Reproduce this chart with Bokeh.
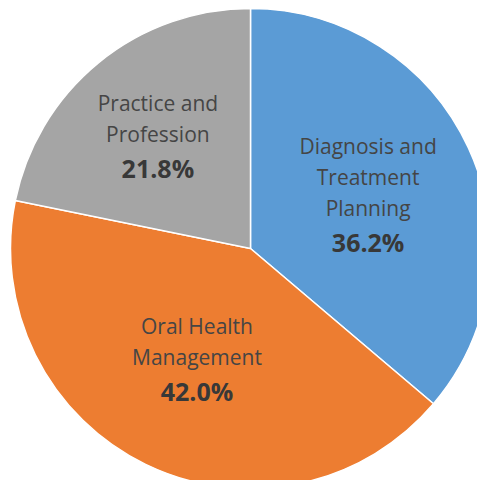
import math
from bokeh.plotting import figure
from bokeh.models import Range1d, ColumnDataSource
from bokeh.core.properties import value
from bokeh.embed import file_html
from bokeh.resources import INLINE

categories = ["Diagnosis and\nTreatment\nPlanning", "Oral Health\nManagement", "Practice and\nProfession"]
shares = [36.2, 42.0, 21.8]
colors = ["#5B9BD5", "#ED7D31", "#A5A5A5"]

# layout/style
CX, CY, R = 250, -248, 240
label_r = [0.54, 0.51, 0.61]
NAME_STEP = 31
PCT_GAP = 34
FONT = "Open Sans"

total = sum(shares)
starts, ends, mids = [], [], []
a = math.pi / 2
for s in shares:
    span = s / total * 2 * math.pi
    ends.append(a)
    starts.append(a - span)
    mids.append(a - span / 2)
    a -= span

p = figure(width=477, height=480, output_backend="svg", toolbar_location=None,
           x_range=Range1d(0, 477), y_range=Range1d(-480, 0), min_border=0)
p.axis.visible = False
p.grid.visible = False
p.outline_line_color = None
p.background_fill_color = "white"

src = ColumnDataSource(dict(start=starts, end=ends, color=colors))
p.wedge(x=CX, y=CY, radius=R, start_angle="start", end_angle="end",
        fill_color="color", line_color="white", line_width=1.5, source=src)

nx, ny, nt, px, py, pt = [], [], [], [], [], []
for cat, s, m, lr in zip(categories, shares, mids, label_r):
    cx = CX + lr * R * math.cos(m)
    cy = CY + lr * R * math.sin(m)
    lines = cat.split("\n")
    height = (len(lines) - 1) * NAME_STEP + PCT_GAP
    top = cy + height / 2
    for i, ln in enumerate(lines):
        nx.append(cx); ny.append(top - i * NAME_STEP); nt.append(ln)
    px.append(cx); py.append(top - (len(lines) - 1) * NAME_STEP - PCT_GAP); pt.append(f"{s:.1f}%")

p.text(x=nx, y=ny, text=nt, text_align="center", text_baseline="middle",
       text_font=value(FONT), text_font_size="21px", text_color="#454545")
p.text(x=px, y=py, text=pt, text_align="center", text_baseline="middle",
       text_font=value(FONT), text_font_size="25px", text_font_style="bold",
       text_color="#383838")

open("out.html", "w").write(file_html(p, INLINE))
